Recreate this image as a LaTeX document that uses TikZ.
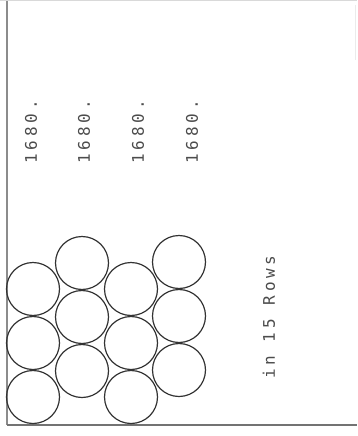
\documentclass[tikz,border=0pt]{standalone}
\usepackage{fontspec}
\newfontfamily\plotfont[LetterSpace=24]{DejaVu Sans Mono}
\begin{document}
\begin{tikzpicture}[x=1pt,y=-1pt,
  ball/.style={circle,draw=black!80,line width=1.2pt,minimum size=53pt,inner sep=0pt},
  lbl/.style={rotate=90,font=\plotfont\fontsize{16}{16}\selectfont,text=black!70,inner sep=0pt},
  axis/.style={draw=black!45,line width=1.6pt}]
\useasboundingbox (0,0) rectangle (357,436);
% frame
\coordinate (tl) at (7,0);
\coordinate (bl) at (7,425);
\coordinate (br) at (357,425);
\coordinate (t0) at (0,0.5);
\coordinate (t1) at (357,0.5);
\coordinate (r0) at (355,5);
\coordinate (r1) at (355,60);
\draw[axis] (tl) -- (bl);
\draw[draw=black!55,line width=1.2pt] (bl) -- (br);
\draw[draw=black!15,line width=0.8pt] (t0) -- (t1);
\draw[draw=black!8,line width=0.5pt] (r0) -- (r1);
% circles
\node[ball] (c11) at (33,397) {};
\node[ball] (c12) at (33,343) {};
\node[ball] (c13) at (33,289) {};
\node[ball] (c21) at (82,371) {};
\node[ball] (c22) at (82,317) {};
\node[ball] (c23) at (82,263) {};
\node[ball] (c31) at (131,397) {};
\node[ball] (c32) at (131,343) {};
\node[ball] (c33) at (131,289) {};
\node[ball] (c41) at (179,370) {};
\node[ball] (c42) at (179,316) {};
\node[ball] (c43) at (179,262) {};
% labels
\node[lbl] (l1) at (31,132) {1680.};
\node[lbl] (l2) at (84,132) {1680.};
\node[lbl] (l3) at (138,132) {1680.};
\node[lbl] (l4) at (192,132) {1680.};
\node[lbl] (rows) at (269,317) {in 15 Rows};
\end{tikzpicture}
\end{document}
